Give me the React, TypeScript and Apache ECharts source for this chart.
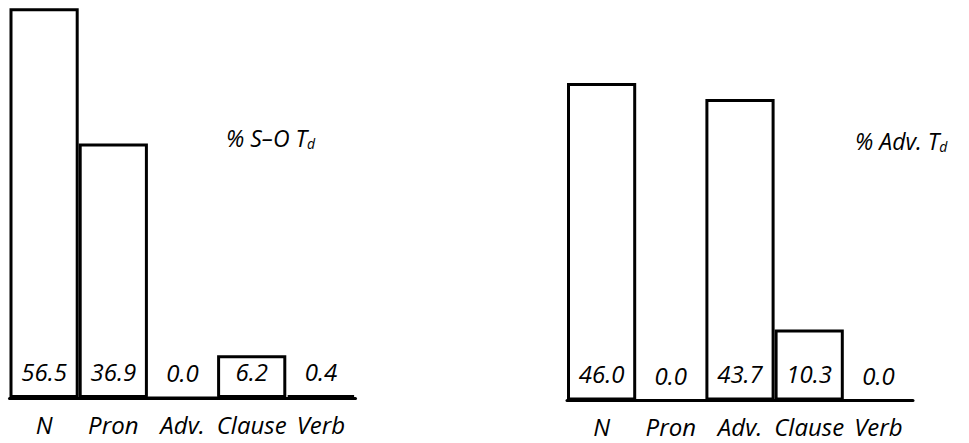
import React, { useEffect, useRef } from "react";
import * as echarts from "echarts";

const categories = ["N", "Pron", "Adv.", "Clause", "Verb"];
const sOValues = [56.5, 36.9, 0.0, 6.2, 0.4];
const advValues = [46.0, 0.0, 43.7, 10.3, 0.0];
const sOTitle = "% S–O T";
const advTitle = "% Adv. T";
const subscript = "d";

const INK = "#000";
const FONT = "'Open Sans', 'DejaVu Sans', sans-serif";

export default function App() {
  const ref = useRef<HTMLDivElement>(null);
  useEffect(() => {
    if (!ref.current) return;
    const chart = echarts.init(ref.current, null, { renderer: "svg" });
    const xAxisBase = {
      type: "category",
      data: categories,
      boundaryGap: true,
      axisLine: { show: true, lineStyle: { color: INK, width: 3 } },
      axisTick: { show: false },
      axisLabel: {
        interval: 0,
        color: INK,
        fontStyle: "italic",
        fontFamily: FONT,
        fontSize: 24,
        margin: 14,
      },
    };
    const yAxisBase = { type: "value", min: 0, max: 57, show: false };
    const seriesBase = {
      type: "bar",
      barCategoryGap: "0%",
      itemStyle: { color: "#fff", borderColor: INK, borderWidth: 3 },
      label: {
        show: true,
        position: "insideBottom",
        distance: 15,
        formatter: (p: any) => Number(p.value).toFixed(1),
        color: INK,
        fontStyle: "italic",
        fontFamily: FONT,
        fontSize: 24,
      },
    };
    const titleRich = {
      a: { fontFamily: FONT, fontStyle: "italic", fontSize: 23, fill: INK, color: INK },
      s: { fontFamily: FONT, fontStyle: "italic", fontSize: 14, fill: INK, color: INK, verticalAlign: "bottom", padding: [12, 0, 0, 0] },
    };
    chart.setOption({
      animation: false,
      backgroundColor: "#fff",
      grid: [
        { left: 9.5, top: 4.7, width: 346, height: 393.3 },
        { left: 567, top: 7.2, width: 346, height: 393.3 },
      ],
      xAxis: [
        { ...xAxisBase, gridIndex: 0 },
        { ...xAxisBase, gridIndex: 1 },
      ],
      yAxis: [
        { ...yAxisBase, gridIndex: 0 },
        { ...yAxisBase, gridIndex: 1 },
      ],
      series: [
        { ...seriesBase, xAxisIndex: 0, yAxisIndex: 0, data: sOValues },
        { ...seriesBase, xAxisIndex: 1, yAxisIndex: 1, data: advValues },
      ],
      graphic: [
        {
          type: "text",
          left: 226,
          top: 126,
          style: { text: `{a|${sOTitle}}{s|${subscript}}`, rich: titleRich },
        },
        {
          type: "text",
          left: 855,
          top: 129,
          style: { text: `{a|${advTitle}}{s|${subscript}}`, rich: titleRich },
        },
      ],
    });
    return () => chart.dispose();
  }, []);
  return (
    <div
      ref={ref}
      style={{ position: "fixed", left: 0, top: 0, width: 969, height: 443, background: "#fff" }}
    />
  );
}
